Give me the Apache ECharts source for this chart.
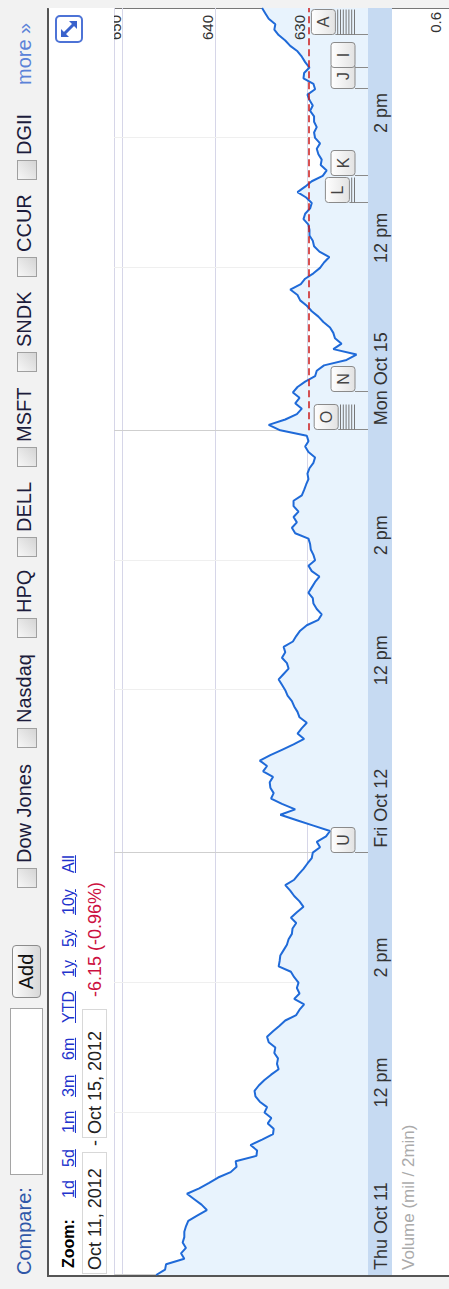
<!DOCTYPE html>
<html>
<head>
<meta http-equiv="Content-Type" content="text/html; charset=UTF-8" />
<title>Oct 11 - Oct 15, 2012</title>
<script src="https://cdn.jsdelivr.net/npm/echarts@6/dist/echarts.min.js"></script>
<style>
    html, body { margin: 0; padding: 0; width: 449px; height: 1289px; overflow: hidden; background: #f2f2f2; }
    /* the page is laid out lying down (1289 x 449) and turned a quarter to fit the window */
    #page { position: absolute; left: 0; top: 0; width: 1289px; height: 449px; overflow: hidden;
            transform-origin: 0 0; transform: translateY(1289px) rotate(-90deg);
            background: #f2f2f2; font-family: Arial, "Liberation Sans", sans-serif; }
    #panel { position: absolute; left: 12px; top: 47px; width: 1269px; height: 420px; box-sizing: border-box;
             background: #fff; border-left: 2px solid #555; border-top: 2px solid #555; border-right: 1px solid #777; }
    #topline { position: absolute; left: 14px; top: 114px; width: 1267px; height: 1px; background: #d6d6e8; }
    #band { position: absolute; left: 14px; top: 368px; width: 1267px; height: 24px; background: #c6daf2; }
    #chart { position: absolute; left: 0; top: 0; width: 1289px; height: 449px; z-index: 1; }
    #hdr { position: absolute; left: 14px; top: 49px; width: 1267px; height: 65px; background: #fff; z-index: 2; }
    .abs { position: absolute; z-index: 3; white-space: nowrap; }
    .big { font-size: 20px; line-height: 23px; top: 13px; }
    .tk { color: #1c1c3c; }
    .cb { position: absolute; z-index: 3; top: 17px; width: 18px; height: 18px; border: 1px solid #a0a0a0;
          background: linear-gradient(135deg, #f7f7f7, #d4d4d4); }
    .zl { font-size: 16px; line-height: 18px; top: 60px; color: #2233cc; text-decoration: underline; }
    .dt { font-size: 18px; line-height: 20px; top: 85px; color: #222; }
    .dbox { position: absolute; z-index: 3; top: 82px; height: 25px; border: 1px solid #d8d8d8; box-sizing: border-box; }
</style>
</head>
<body>
<div id="page">
    <div id="panel"></div>
    <div id="topline"></div>
    <div id="band"></div>
    <div id="chart"></div>
    <div id="hdr"></div>

    <!-- compare bar -->
    <span class="abs big" style="left:14px;color:#2f57a8;">Compare:</span>
    <div class="abs" style="left:114px;top:10px;width:167px;height:33px;box-sizing:border-box;border:1px solid #a5a5a5;background:#fff;"></div>
    <div class="abs" style="left:291px;top:12px;width:53px;height:29px;box-sizing:border-box;border:1px solid #8c8c8c;border-radius:4px;background:linear-gradient(#fbfbfb,#d8d8d8);font-size:20px;line-height:27px;text-align:center;color:#111;">Add</div>
    <div id="tickers"></div>
    <span class="abs big" style="left:1204px;color:#5b82d8;">more &raquo;</span>

    <!-- zoom links and date range -->
    <div id="zoomrow"></div>
    <div class="dbox" style="left:15px;width:122px;"></div>
    <div class="dbox" style="left:151px;width:129px;"></div>
    <span class="abs dt" style="left:19px;">Oct 11, 2012</span>
    <span class="abs dt" style="left:143px;">-</span>
    <span class="abs dt" style="left:155px;">Oct 15, 2012</span>
    <span class="abs dt" style="left:292px;color:#cc1040;">-6.15 (-0.96%)</span>
    <div class="abs" style="left:1246px;top:55px;width:28px;height:28px;">
        <svg width="28" height="28" viewBox="0 0 28 28">
            <rect x="1" y="1" width="26" height="26" rx="4" fill="#fff" stroke="#4d73d6" stroke-width="2"/>
            <path d="M8 8 L20 20" stroke="#3a62cc" stroke-width="3"/>
            <path d="M6 6 L14 6 L6 14 Z" fill="#3a62cc"/>
            <path d="M22 22 L14 22 L22 14 Z" fill="#3a62cc"/>
        </svg>
    </div>

    <span class="abs" style="left:19px;top:399px;font-size:17px;line-height:20px;color:#aaa;">Volume (mil / 2min)</span>
</div>

<script type="text/javascript">
    // prices every 5 minutes, 9:30 to 16:00
    var thuPrices = [
        646.37, 645.40, 645.29, 643.31, 643.67, 643.13, 643.49, 643.31, 643.31, 643.13,
        642.88, 641.87, 640.86, 641.44, 642.23, 643.02, 641.69, 640.61, 639.64, 638.27,
        637.63, 637.73, 635.47, 635.40, 636.12, 634.86, 633.67, 633.60, 634.24, 633.85,
        634.60, 634.32, 635.11, 635.58, 635.68, 635.22, 634.60, 633.88, 633.06, 633.24,
        633.13, 633.53, 633.42, 634.14, 634.32, 633.67, 632.99, 632.34, 631.15, 630.79,
        630.29, 631.37, 630.79, 631.08, 630.90, 631.37, 631.73, 633.06, 632.95, 632.88,
        632.52, 632.16, 631.98, 631.62, 631.55, 631.15, 631.73, 631.08, 630.36, 630.79,
        631.37, 631.80, 632.34, 631.37, 630.90, 630.36, 629.93, 629.46
    ];
    var friPrices = [
        629.35, 628.56, 628.92, 627.91, 627.48, 629.28, 631.08, 632.88, 631.26, 632.70,
        633.88, 633.60, 633.96, 634.03, 633.67, 634.75, 634.32, 635.11, 633.96, 632.70,
        631.44, 630.29, 631.01, 630.54, 630.00, 630.79, 631.01, 631.37, 631.62, 632.09,
        632.34, 632.70, 633.06, 632.52, 631.98, 632.16, 632.70, 632.34, 632.52, 631.51,
        631.15, 630.72, 630.00, 628.74, 628.38, 628.92, 629.28, 629.35, 629.82, 629.46,
        629.10, 628.63, 629.46, 629.82, 629.10, 629.28, 629.57, 629.64, 629.82, 631.26,
        631.62, 631.08, 631.44, 630.90, 631.44, 631.44, 630.54, 630.29, 630.07, 629.82,
        629.93, 629.71, 629.28, 629.10, 629.82, 630.18, 629.82, 630.00
    ];
    var monPrices = [
        632.88, 634.14, 632.34, 631.08, 630.54, 631.26, 630.79, 631.51, 631.01, 630.18,
        629.10, 628.92, 628.13, 625.68, 624.60, 627.12, 626.22, 626.94, 627.12, 627.48,
        628.20, 628.74, 629.46, 630.00, 630.72, 631.01, 631.80, 630.65, 630.18, 629.28,
        628.56, 628.13, 627.55, 628.63, 629.21, 629.35, 629.71, 629.71, 629.82, 630.36,
        630.18, 629.64, 629.46, 630.07, 631.01, 630.18, 629.46, 628.27, 627.84, 628.49,
        628.38, 628.74, 628.92, 628.56, 629.10, 629.21, 628.92, 629.21, 629.21, 629.64,
        629.35, 629.71, 629.93, 629.10, 629.28, 630.36, 630.29, 629.71, 630.18, 630.54,
        631.01, 631.80, 632.34, 633.06, 633.53, 633.42, 634.14, 634.50, 634.86
    ];
    var prices = thuPrices.concat(friPrices, monPrices);

    var days = ['Thu Oct 11', 'Fri Oct 12', 'Mon Oct 15'];
    var tickIdx = [0, 30, 54, 78, 108, 132, 156, 186, 210];
    var tickText = ['Thu Oct 11', '12 pm', '2 pm', 'Fri Oct 12', '12 pm', '2 pm', 'Mon Oct 15', '12 pm', '2 pm'];
    var dayIdx = [0, 78, 156];
    var priceTicks = [630, 640, 650];
    var prevClose = 629.8;

    // news flags
    var flagIdx = [78, 156, 163, 198, 203, 219, 223, 229];
    var flagText = ['U', 'O', 'N', 'L', 'K', 'J', 'I', 'A'];
    var flagStack = [0, 6, 0, 2, 0, 0, 0, 7];

    var tickers = ['Dow Jones', 'Nasdaq', 'HPQ', 'DELL', 'MSFT', 'SNDK', 'CCUR', 'DGII'];
    var tickerLeft = [401, 541, 651, 732, 822, 917, 1012, 1109];
    var zoomLinks = ['1d', '5d', '1m', '3m', '6m', 'YTD', '1y', '5y', '10y', 'All'];
    var zoomLeft = [91, 122, 156, 192, 229, 266, 312, 342, 374, 416];

    // time slots for the category axis
    var times = [];
    for (var d = 0; d < days.length; d++) {
        for (var m = 0; m < 390; m += 5) {
            var t = 570 + m;
            times.push(days[d] + ' ' + Math.floor(t / 60) + ':' + ('0' + (t % 60)).slice(-2));
        }
    }
    times.push('Mon Oct 15 16:00');

    // compare bar and zoom row
    var html = '';
    for (var i = 0; i < tickers.length; i++) {
        html += '<span class="cb" style="left:' + tickerLeft[i] + 'px"></span>';
        html += '<span class="abs big tk" style="left:' + (tickerLeft[i] + 25) + 'px">' + tickers[i] + '</span>';
    }
    document.getElementById('tickers').innerHTML = html;
    html = '<span class="abs zl" style="left:21px;color:#000;font-weight:bold;text-decoration:none;">Zoom:</span>';
    for (var i = 0; i < zoomLinks.length; i++) {
        html += '<span class="abs zl" style="left:' + zoomLeft[i] + 'px">' + zoomLinks[i] + '</span>';
    }
    document.getElementById('zoomrow').innerHTML = html;

    function isTick(index) { return tickIdx.indexOf(index) >= 0; }
    function isDay(index) { return dayIdx.indexOf(index) >= 0; }

    var myChart = echarts.init(document.getElementById('chart'), null, {renderer: 'svg'});

    var flagFill = new echarts.graphic.LinearGradient(0, 0, 0, 1, [
        {offset: 0, color: '#ffffff'}, {offset: 1, color: '#e2e2e2'}
    ]);

    function renderFlag(params, api) {
        var k = params.dataIndex;
        var x = Math.round(api.coord([api.value(0), api.value(1)])[0]) + 0.5;
        var base = params.coordSys.y + params.coordSys.height;
        var stackBottom = base - 13;
        var boxBottom = stackBottom - flagStack[k] * 2.8;
        var children = [{
            type: 'line',
            shape: {x1: x, y1: boxBottom, x2: x, y2: base},
            style: {stroke: '#8a8a8a', lineWidth: 1}
        }];
        for (var s = 1; s <= flagStack[k]; s++) {
            children.push({
                type: 'line',
                shape: {x1: x, y1: boxBottom + s * 2.8 - 0.5, x2: x + 25, y2: boxBottom + s * 2.8 - 0.5},
                style: {stroke: '#777', lineWidth: 1}
            });
        }
        children.push({
            type: 'rect',
            shape: {x: x, y: boxBottom - 24, width: 25, height: 24, r: 3},
            style: {fill: flagFill, stroke: '#8a8a8a', lineWidth: 1}
        });
        children.push({
            type: 'text',
            style: {text: flagText[k], x: x + 12.5, y: boxBottom - 11.5, align: 'center', verticalAlign: 'middle',
                    fontSize: 16, fontFamily: 'Arial', fill: '#444'}
        });
        return {type: 'group', children: children};
    }

    var option = {
        animation: false,
        grid: [
            {left: 14, right: 8, top: 114, height: 254, outerBoundsMode: 'none'},
            {left: 14, right: 8, top: 425, height: 200, outerBoundsMode: 'none'}
        ],
        xAxis: [
            {
                type: 'category', gridIndex: 0, data: times, boundaryGap: false,
                axisLine: {show: false},
                axisTick: {show: true, inside: true, length: 5, interval: isTick, lineStyle: {color: '#666'}},
                axisLabel: {
                    interval: isTick,
                    formatter: function (value, index) {
                        var k = tickIdx.indexOf(index);
                        return k >= 0 ? tickText[k] : '';
                    },
                    align: 'left', verticalAlign: 'middle', padding: [0, 0, 0, 5], margin: 13,
                    fontSize: 18, fontFamily: 'Arial', color: '#333'
                },
                splitLine: {show: true, interval: isTick, lineStyle: {color: ['#cfcfcf', '#efefef', '#efefef']}}
            },
            {
                type: 'category', gridIndex: 1, data: times, boundaryGap: false, position: 'top',
                axisLine: {show: true, lineStyle: {color: '#d6d6e8'}},
                axisTick: {show: true, inside: true, length: 8, interval: isDay, lineStyle: {color: '#555'}},
                axisLabel: {show: false},
                splitLine: {show: false}
            }
        ],
        yAxis: [
            {
                // price gridlines, under the line
                type: 'value', gridIndex: 0, position: 'right', min: 623.35, max: 650.95,
                axisLine: {show: false},
                axisTick: {show: false, customValues: priceTicks},
                axisLabel: {show: false},
                splitLine: {show: true, lineStyle: {color: '#d6d6e8'}}
            },
            {
                type: 'value', gridIndex: 1, position: 'right', min: 0, max: 0.6, interval: 0.6,
                axisLine: {show: false}, axisTick: {show: false}, splitLine: {show: false},
                axisLabel: {
                    inside: true, margin: 4, verticalAlign: 'top', padding: [3, 0, 0, 0],
                    fontSize: 15, fontFamily: 'Arial', color: '#333',
                    formatter: function (v) { return v > 0 ? String(v) : ''; }
                }
            },
            {
                // price labels, drawn over the filled area
                type: 'value', gridIndex: 0, position: 'right', min: 623.35, max: 650.95, z: 10,
                axisLine: {show: false},
                axisTick: {show: false, customValues: priceTicks},
                axisLabel: {inside: true, customValues: priceTicks, margin: 7, verticalAlign: 'bottom',
                            fontSize: 15, fontFamily: 'Arial', color: '#333'},
                splitLine: {show: false}
            }
        ],
        series: [
            {
                type: 'line', xAxisIndex: 0, yAxisIndex: 0, data: prices,
                symbol: 'none', z: 3,
                lineStyle: {color: '#1f6ad8', width: 2},
                areaStyle: {color: '#e8f3fd', origin: 'start', opacity: 1},
                markLine: {
                    silent: true, symbol: 'none', label: {show: false},
                    lineStyle: {color: '#cc1a1a', type: [7, 4], width: 1.5},
                    data: [[{coord: [dayIdx[2], prevClose]}, {coord: [times.length - 1, prevClose]}]]
                }
            },
            {
                type: 'bar', xAxisIndex: 1, yAxisIndex: 1, data: []
            },
            {
                type: 'custom', xAxisIndex: 0, yAxisIndex: 0, z: 5, clip: false,
                data: flagIdx.map(function (i) { return [i, 630]; }),
                renderItem: renderFlag
            }
        ]
    };

    if (option && typeof option === 'object') {
        myChart.setOption(option, true);
    }
</script>
</body>
</html>
